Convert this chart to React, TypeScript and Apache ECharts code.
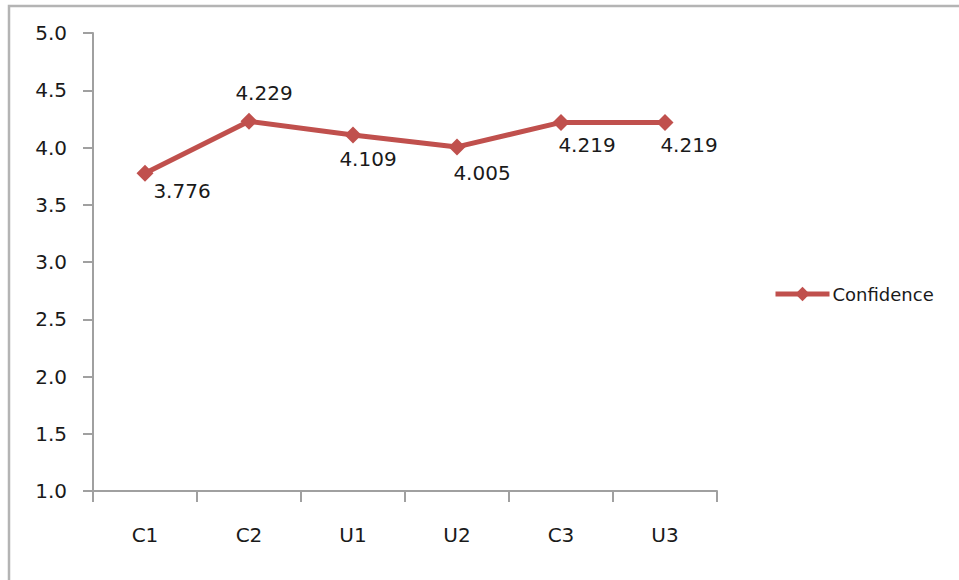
import React, { useEffect, useRef } from "react";
import * as echarts from "echarts";

const CATEGORIES = ["C1", "C2", "U1", "U2", "C3", "U3"];
const CONFIDENCE = [3.776, 4.229, 4.109, 4.005, 4.219, 4.219];
const SERIES_NAME = "Confidence";
const Y_MIN = 1.0;
const Y_MAX = 5.0;
const Y_STEP = 0.5;

// layout only: data-label offsets (px) from each point
const LABEL_OFFSETS: [number, number][] = [
  [37, 18],
  [15, -28],
  [15, 24],
  [25, 26],
  [26, 23],
  [24, 23],
];

const FONT = "DejaVu Sans";
const RED = "#C0504D";
const AXIS = "#a0a0a0";

export default function App() {
  const ref = useRef<HTMLDivElement>(null);
  useEffect(() => {
    if (!ref.current) return;
    const chart = echarts.init(ref.current, null, { renderer: "svg" });
    chart.setOption({
      animation: false,
      backgroundColor: "#ffffff",
      textStyle: { fontFamily: FONT },
      graphic: [
        {
          type: "rect",
          shape: { x: 9, y: 6, width: 1000, height: 700 },
          style: { fill: "none", stroke: "#b4b4b4", lineWidth: 2.5 },
          silent: true,
        },
      ],
      grid: { left: 93, top: 33, right: 242, bottom: 89, containLabel: false },
      legend: {
        left: 768,
        top: 280,
        itemWidth: 54,
        itemHeight: 18,
        itemGap: 6,
        lineStyle: { width: 5 },
        textStyle: { fontFamily: FONT, fontSize: 18, color: "#1a1a1a", padding: [0, 0, 0, -2] },
        data: [SERIES_NAME],
      },
      xAxis: {
        type: "category",
        data: CATEGORIES,
        boundaryGap: true,
        axisLine: { lineStyle: { color: AXIS, width: 2 } },
        axisTick: { show: true, length: 11, alignWithLabel: false, lineStyle: { color: AXIS, width: 2 } },
        axisLabel: { fontFamily: FONT, fontSize: 20, color: "#1a1a1a", margin: 34 },
        splitLine: { show: false },
      },
      yAxis: {
        type: "value",
        min: Y_MIN,
        max: Y_MAX,
        interval: Y_STEP,
        axisLine: { show: true, lineStyle: { color: AXIS, width: 2 } },
        axisTick: { show: true, length: 10, lineStyle: { color: AXIS, width: 2 } },
        axisLabel: {
          fontFamily: FONT,
          fontSize: 20,
          color: "#1a1a1a",
          margin: 26,
          formatter: (v: number) => v.toFixed(1),
        },
        splitLine: { show: false },
      },
      series: [
        {
          name: SERIES_NAME,
          type: "line",
          data: CONFIDENCE.map((v, i) => ({
            value: v,
            label: { offset: LABEL_OFFSETS[i] },
          })),
          symbol: "diamond",
          symbolSize: 17,
          lineStyle: { color: RED, width: 5 },
          itemStyle: { color: RED },
          label: {
            show: true,
            position: "inside",
            fontFamily: FONT,
            fontSize: 20,
            color: "#1a1a1a",
            formatter: (p: any) => p.value.toFixed(3),
          },
        },
      ],
    });
    return () => chart.dispose();
  }, []);
  return (
    <div
      ref={ref}
      style={{ position: "fixed", left: 0, top: 0, width: 959, height: 580 }}
    />
  );
}
